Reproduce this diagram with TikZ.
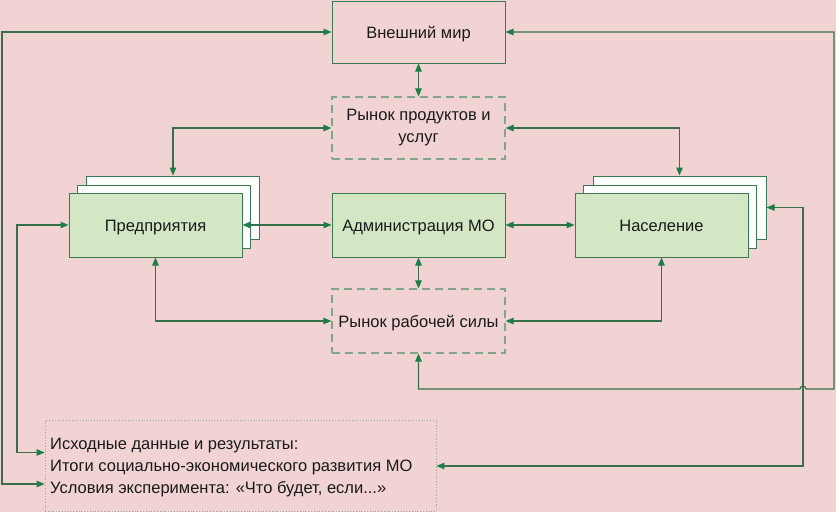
\documentclass[tikz,border=0pt]{standalone}
\usepackage{fontspec}
\setmainfont{Liberation Sans}
\usetikzlibrary{arrows.meta}
\definecolor{bgpink}{HTML}{F1D3D3}
\definecolor{boxgreen}{HTML}{D3E7C5}
\definecolor{edgegreen}{HTML}{3A7A50}
\definecolor{linegreen}{HTML}{36704A}
\definecolor{tipgreen}{HTML}{1B8045}
\definecolor{dashgray}{HTML}{82A68C}
\definecolor{dotgray}{HTML}{9AA89C}
\definecolor{txt}{HTML}{1A1A1A}
\begin{document}
\begin{tikzpicture}[x=1pt,y=-1pt,
 >={Triangle[length=8pt,width=6.5pt,color=tipgreen]},
 every node/.style={font=\fontsize{16.5}{22}\selectfont, text=txt},
 base/.style={rectangle, minimum width=173pt, minimum height=63pt, inner sep=2pt, align=center},
 oneline/.style={text height=12pt, text depth=0pt},
 solidbox/.style={base, draw=edgegreen, line width=1pt},
 greenbox/.style={solidbox, fill=boxgreen},
 shadowbox/.style={solidbox, fill=white},
 dashbox/.style={base, draw=dashgray, line width=1.2pt, dash pattern=on 8pt off 5pt},
 dotbox/.style={rectangle, draw=dotgray, line width=0.8pt, dotted, minimum width=391pt, minimum height=91pt},
 conn/.style={draw=linegreen, line width=1.1pt, <->},
 linetext/.style={anchor=base west, inner sep=0pt},
]
\fill[bgpink] (0,0) rectangle (836,512);
\useasboundingbox (0,0) rectangle (836,512);

\node[solidbox, oneline, minimum height=62pt] (w) at (418.5,32) {Внешний мир};
\node[dashbox, minimum height=62pt] (p) at (418.5,128) {Рынок продуктов и\\услуг};

\node[shadowbox] (e2) at (173,207.5) {};
\node[shadowbox] (e1) at (163.5,216.5) {};
\node[greenbox, oneline, minimum height=64pt] (e) at (155.5,225) {Предприятия};

\node[greenbox, oneline, minimum height=64pt] (a) at (418.5,225) {Администрация МО};

\node[shadowbox] (n2) at (679.5,207.5) {};
\node[shadowbox] (n1) at (670,216.5) {};
\node[greenbox, oneline, minimum height=64pt] (n) at (661.5,225) {Население};

\node[dashbox, oneline, minimum height=64pt] (r) at (418.5,321) {Рынок рабочей силы};

\node[dotbox] (b) at (240.5,465.5) {};
\node[linetext] (t1) at (50,449) {Исходные данные и результаты:};
\node[linetext] (t2) at (50,471) {Итоги социально-экономического развития МО};
\node[linetext] (t3) at (50,493) {Условия эксперимента: «Что будет, если...»};

\coordinate (cR) at (834,389);
\coordinate (cT) at (834,32);
\coordinate (hop) at (803,389);
\coordinate (cN) at (803,466);
\coordinate (cL) at (2,484);
\coordinate (cE) at (17,452.5);

\draw[conn] (w.south) -- (p.north);
\draw[conn] (p.west) -| (e2.north);
\draw[conn] (p.east) -| (n2.north);
\draw[conn] (e.east) -- (a.west);
\draw[conn] (a.east) -- (n.west);
\draw[conn] (a.south) -- (r.north);
\draw[conn] (e.south) |- (r.west);
\draw[conn] (n.south) |- (r.east);
\draw[conn] (r.south) -- (r.south |- cR) -- ([xshift=-3pt]hop) arc[start angle=180, end angle=0, radius=3pt] -- (cR) -- (cT) -- (w.east);
\draw[conn] (n2.east) -| (cN) -- (cN -| b.east);
\draw[conn] (w.west) -| (cL) -- (cL -| b.west);
\draw[conn] (e.west) -| (cE) -- (cE -| b.west);
\end{tikzpicture}
\end{document}
